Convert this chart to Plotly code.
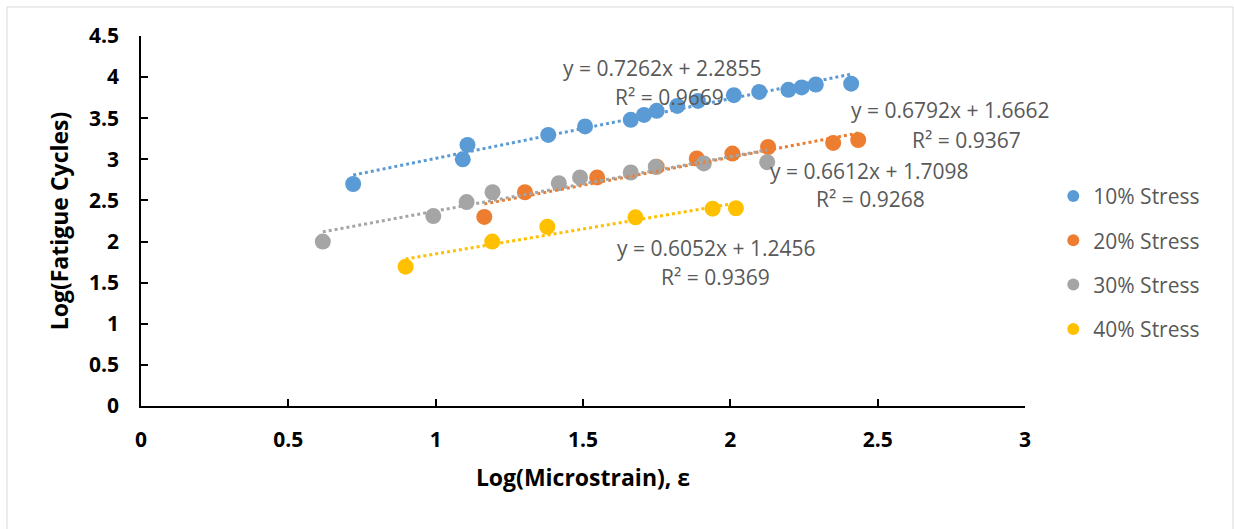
import plotly.graph_objects as go

# ---- data ----
series_names = ["10% Stress", "20% Stress", "30% Stress", "40% Stress"]
colors = ["#5B9BD5", "#ED7D31", "#A5A5A5", "#FFC000"]

x10 = [0.72, 1.092, 1.108, 1.382, 1.507, 1.662, 1.707, 1.75, 1.82, 1.89, 2.012, 2.098, 2.197, 2.242, 2.29, 2.41]
y10 = [2.70, 3.00, 3.175, 3.297, 3.40, 3.48, 3.54, 3.59, 3.65, 3.71, 3.78, 3.82, 3.845, 3.875, 3.91, 3.92]

x20 = [1.165, 1.303, 1.548, 1.75, 1.886, 2.007, 2.128, 2.349, 2.434]
y20 = [2.30, 2.60, 2.78, 2.91, 3.01, 3.07, 3.15, 3.20, 3.235]

x30 = [0.617, 0.992, 1.105, 1.193, 1.418, 1.49, 1.662, 1.747, 1.91, 2.125]
y30 = [2.00, 2.31, 2.48, 2.60, 2.71, 2.78, 2.84, 2.91, 2.95, 2.965]

x40 = [0.898, 1.192, 1.379, 1.678, 1.94, 2.019]
y40 = [1.695, 2.00, 2.18, 2.295, 2.40, 2.405]

slopes = [0.7262, 0.6792, 0.6612, 0.6052]
intercepts = [2.2855, 1.6662, 1.7098, 1.2456]
r2_values = ["0.9669", "0.9367", "0.9268", "0.9369"]

x_ticks = [0, 0.5, 1, 1.5, 2, 2.5, 3]
x_tick_labels = ["0", "0.5", "1", "1.5", "2", "2.5", "3"]
y_ticks = [0, 0.5, 1, 1.5, 2, 2.5, 3, 3.5, 4, 4.5]
y_tick_labels = ["0", "0.5", "1", "1.5", "2", "2.5", "3", "3.5", "4", "4.5"]

xs = [x10, x20, x30, x40]
ys = [y10, y20, y30, y40]

# label anchor positions (data coords) for equation / R² text
eq_pos = [(1.768, 4.11), (2.745, 3.60), (2.47, 2.86), (1.951, 1.92)]
r2_pos = [(1.795, 3.76), (2.80, 3.236), (2.474, 2.518), (1.951, 1.57)]

TXT = "#595959"
FONT = "Open Sans"

fig = go.Figure()

for i in range(4):
    fig.add_trace(go.Scatter(
        x=xs[i], y=ys[i], mode="markers", name=series_names[i],
        legendgroup=series_names[i],
        marker=dict(color=colors[i], size=16, line=dict(width=0)),
    ))

for i in range(4):
    lo, hi = min(xs[i]), max(xs[i])
    fig.add_trace(go.Scatter(
        x=[lo, hi], y=[slopes[i] * lo + intercepts[i], slopes[i] * hi + intercepts[i]],
        mode="lines", showlegend=False, legendgroup=series_names[i],
        line=dict(color=colors[i], width=3, dash="dot"),
        hoverinfo="skip",
    ))

for i in range(4):
    eq = f"y = {slopes[i]:.4f}x + {intercepts[i]:.4f}"
    fig.add_annotation(x=eq_pos[i][0], y=eq_pos[i][1], text=eq, showarrow=False,
                       xanchor="center", yanchor="middle",
                       font=dict(family=FONT, size=21, color=TXT))
    fig.add_annotation(x=r2_pos[i][0], y=r2_pos[i][1], text=f"R² = {r2_values[i]}", showarrow=False,
                       xanchor="center", yanchor="middle",
                       font=dict(family=FONT, size=21, color=TXT))

fig.add_shape(type="rect", xref="paper", yref="paper",
              x0=-0.1516, x1=1.2353, y0=-0.35, y1=1.0784,
              line=dict(color="#D9D9D9", width=1), fillcolor="rgba(0,0,0,0)", layer="below")

axis_common = dict(
    showgrid=False, zeroline=False, showline=True, linecolor="black", linewidth=1.5,
    ticks="inside", ticklen=7, tickcolor="black", tickwidth=1.5,
    tickfont=dict(family=FONT, size=21, color="black", weight="bold"),
)

fig.update_layout(
    width=1234, height=529,
    margin=dict(l=141, r=209, t=36, b=123),
    plot_bgcolor="white", paper_bgcolor="white",
    font=dict(family=FONT, color=TXT),
    xaxis=dict(range=[0, 3], tickvals=x_ticks, ticktext=x_tick_labels,
               ticklabelstandoff=14,
               title=dict(text="Log(Microstrain), ε", standoff=18,
                          font=dict(family=FONT, size=23, color="black", weight="bold")),
               **axis_common),
    yaxis=dict(range=[0, 4.5], tickvals=y_ticks, ticktext=y_tick_labels,
               ticklabelstandoff=16,
               title=dict(text="Log(Fatigue Cycles)", standoff=14,
                          font=dict(family=FONT, size=23, color="black", weight="bold")),
               **axis_common),
    legend=dict(x=1.032, y=0.622, xanchor="left", yanchor="top",
                font=dict(family=FONT, size=21, color=TXT),
                tracegroupgap=14, itemsizing="constant",
                bgcolor="rgba(0,0,0,0)"),
    showlegend=True,
)

fig.write_html("out.html")
